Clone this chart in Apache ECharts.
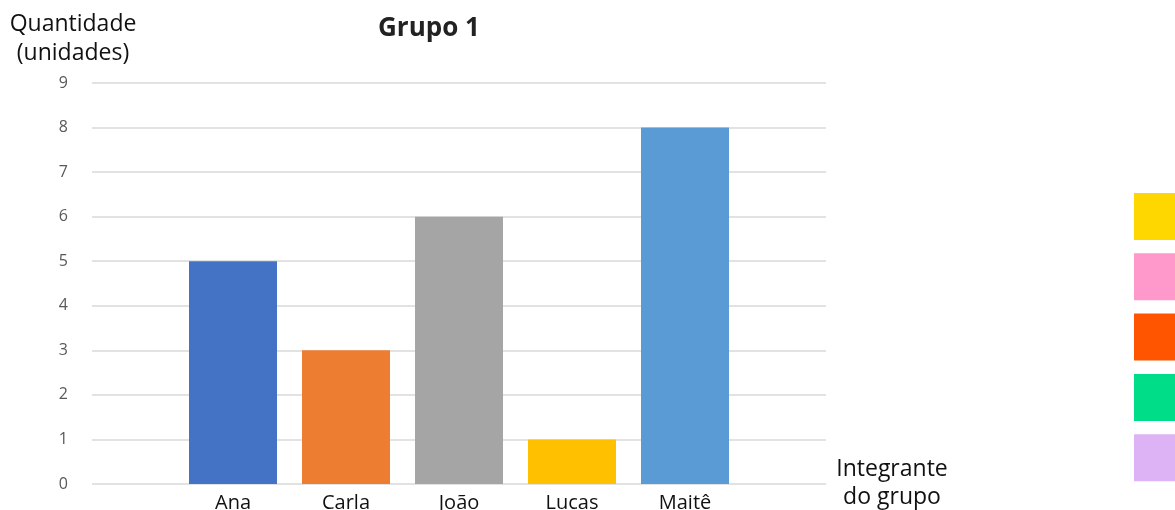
<!DOCTYPE html>
<html><head><meta charset="utf-8">
<script src="https://cdn.jsdelivr.net/npm/echarts@6/dist/echarts.min.js"></script>
<style>html,body{margin:0;padding:0;background:#fff}#c{width:1175px;height:510px}</style>
</head><body><div id="c"></div>
<script>
const categories = ['Ana', 'Carla', 'João', 'Lucas', 'Maitê'];
const values = [5, 3, 6, 1, 8];
const barColors = ['#4472C4', '#ED7D31', '#A5A5A5', '#FFC000', '#5B9BD5'];
const swatchColors = ['#FFD700', '#FF99CC', '#FF5500', '#00DD88', '#DDB3F5'];
const yMin = 0, yMax = 9, yStep = 1;
const font = '"Open Sans", "Noto Sans", sans-serif';

const chart = echarts.init(document.getElementById('c'), null, {renderer: 'canvas'});
const swatches = swatchColors.map((c, i) => ({
  type: 'rect', left: 1134, top: 193 + i * 60.3,
  shape: {width: 50, height: 47}, style: {fill: c}
}));
chart.setOption({
  animation: false,
  title: {
    text: 'Grupo 1', left: 373, top: 11,
    textStyle: {fontFamily: font, fontSize: 26, fontWeight: 'bold', color: '#222'}
  },
  grid: [
    {left: 92, width: 734, top: 83, height: 401, containLabel: false, outerBoundsMode: 'none'},
    {left: 176.5, width: 565, top: 83, height: 401, containLabel: false, outerBoundsMode: 'none'}
  ],
  xAxis: [
    {gridIndex: 0, type: 'category', data: categories, show: false},
    {gridIndex: 1, type: 'category', data: categories,
     axisLine: {show: false}, axisTick: {show: false},
     axisLabel: {fontFamily: font, fontSize: 20, color: '#111', margin: 9}}
  ],
  yAxis: [
    {gridIndex: 0, type: 'value', min: yMin, max: yMax, interval: yStep,
     axisLine: {show: false}, axisTick: {show: false},
     axisLabel: {fontFamily: font, fontSize: 16, color: '#595959', margin: 24},
     splitLine: {lineStyle: {color: '#D9D9D9', width: 1.5}}},
    {gridIndex: 1, type: 'value', min: yMin, max: yMax, interval: yStep, show: false,
     splitLine: {show: false}}
  ],
  series: [{
    type: 'bar', xAxisIndex: 1, yAxisIndex: 1, data: values,
    barWidth: 88,
    itemStyle: {color: p => barColors[p.dataIndex]}
  }],
  graphic: [
    {type: 'text', left: 8, top: 10,
     style: {text: 'Quantidade\n(unidades)', font: '23px ' + font, fill: '#111', textAlign: 'center', lineHeight: 29, width: 130}},
    {type: 'text', left: 834, top: 455,
     style: {text: 'Integrante\ndo grupo', font: '23px ' + font, fill: '#111', textAlign: 'center', lineHeight: 28, width: 116}}
  ].concat(swatches)
});
</script></body></html>
